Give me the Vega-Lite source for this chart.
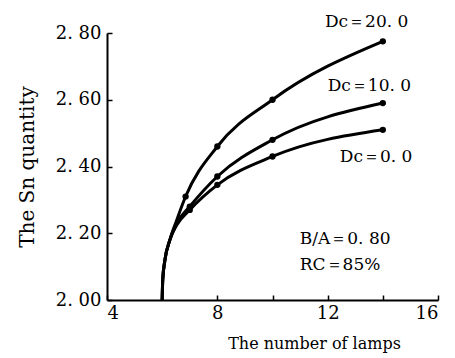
{
  "$schema": "https://vega.github.io/schema/vega-lite/v6.json",
  "width": 331,
  "height": 267,
  "autosize": "none",
  "padding": {"left": 107, "top": 33, "right": 17, "bottom": 58},
  "background": "white",
  "config": {
    "view": {"stroke": null},
    "font": "DejaVu Serif",
    "axis": {
      "grid": false,
      "domainColor": "black",
      "domainWidth": 2,
      "tickColor": "black",
      "tickWidth": 1.5,
      "tickSize": -5,
      "labelColor": "black",
      "labelFont": "DejaVu Serif",
      "labelFontSize": 18,
      "titleFont": "DejaVu Serif",
      "titleFontWeight": "normal",
      "titleColor": "black"
    }
  },
  "datasets": {
    "curves": [
      {"dc": 20, "lamps": 6.0, "sn": 2.0},
      {"dc": 20, "lamps": 6.02, "sn": 2.06},
      {"dc": 20, "lamps": 6.1, "sn": 2.12},
      {"dc": 20, "lamps": 6.28, "sn": 2.18},
      {"dc": 20, "lamps": 6.53, "sn": 2.24},
      {"dc": 20, "lamps": 6.85, "sn": 2.31},
      {"dc": 20, "lamps": 8, "sn": 2.46},
      {"dc": 20, "lamps": 10, "sn": 2.6},
      {"dc": 20, "lamps": 14, "sn": 2.775},
      {"dc": 10, "lamps": 6.0, "sn": 2.0},
      {"dc": 10, "lamps": 6.02, "sn": 2.06},
      {"dc": 10, "lamps": 6.1, "sn": 2.12},
      {"dc": 10, "lamps": 6.28, "sn": 2.18},
      {"dc": 10, "lamps": 6.53, "sn": 2.23},
      {"dc": 10, "lamps": 7.0, "sn": 2.28},
      {"dc": 10, "lamps": 8, "sn": 2.37},
      {"dc": 10, "lamps": 10, "sn": 2.48},
      {"dc": 10, "lamps": 14, "sn": 2.59},
      {"dc": 0, "lamps": 6.0, "sn": 2.0},
      {"dc": 0, "lamps": 6.02, "sn": 2.06},
      {"dc": 0, "lamps": 6.1, "sn": 2.12},
      {"dc": 0, "lamps": 6.28, "sn": 2.18},
      {"dc": 0, "lamps": 6.53, "sn": 2.225},
      {"dc": 0, "lamps": 7.0, "sn": 2.27},
      {"dc": 0, "lamps": 8, "sn": 2.345},
      {"dc": 0, "lamps": 10, "sn": 2.43},
      {"dc": 0, "lamps": 14, "sn": 2.51}
    ],
    "points": [
      {"dc": 20, "lamps": 6.85, "sn": 2.31},
      {"dc": 20, "lamps": 8, "sn": 2.46},
      {"dc": 20, "lamps": 10, "sn": 2.6},
      {"dc": 20, "lamps": 14, "sn": 2.775},
      {"dc": 10, "lamps": 7.0, "sn": 2.28},
      {"dc": 10, "lamps": 8, "sn": 2.37},
      {"dc": 10, "lamps": 10, "sn": 2.48},
      {"dc": 10, "lamps": 14, "sn": 2.59},
      {"dc": 0, "lamps": 7.0, "sn": 2.27},
      {"dc": 0, "lamps": 8, "sn": 2.345},
      {"dc": 0, "lamps": 10, "sn": 2.43},
      {"dc": 0, "lamps": 14, "sn": 2.51}
    ],
    "notes": [
      {"lamps": 11.9, "sn": 2.834, "label": "Dc＝20. 0"},
      {"lamps": 12.0, "sn": 2.641, "label": "Dc＝10. 0"},
      {"lamps": 12.44, "sn": 2.428, "label": "Dc＝0. 0"},
      {"lamps": 10.99, "sn": 2.183, "label": "B/A＝0. 80"},
      {"lamps": 10.99, "sn": 2.105, "label": "RC＝85%"}
    ]
  },
  "encoding": {
    "x": {
      "field": "lamps",
      "type": "quantitative",
      "scale": {"domain": [4, 16], "nice": false, "zero": false},
      "axis": {
        "title": "The number of lamps",
        "titleFontSize": 16,
        "values": [4, 6, 8, 10, 12, 14, 16],
        "labelExpr": "datum.value % 4 == 0 ? datum.label : ''",
        "labelPadding": 9,
        "titleX": 207,
        "titleY": 35
      }
    },
    "y": {
      "field": "sn",
      "type": "quantitative",
      "scale": {"domain": [2, 2.8], "nice": false, "zero": false},
      "axis": {
        "title": "The Sn quantity",
        "titleFontSize": 20,
        "values": [2, 2.2, 2.4, 2.6, 2.8],
        "labelExpr": "replace(format(datum.value, '.2f'), '.', '. ')",
        "labelPadding": 11,
        "titlePadding": 18
      }
    }
  },
  "layer": [
    {
      "data": {"name": "curves"},
      "mark": {"type": "line", "color": "black", "strokeWidth": 3, "interpolate": "monotone"},
      "encoding": {"detail": {"field": "dc", "type": "nominal"}}
    },
    {
      "data": {"name": "points"},
      "mark": {"type": "point", "filled": true, "color": "black", "size": 40, "opacity": 1}
    },
    {
      "data": {"name": "notes"},
      "mark": {"type": "text", "align": "left", "baseline": "middle", "font": "DejaVu Serif", "fontSize": 17, "color": "black"},
      "encoding": {"text": {"field": "label"}}
    }
  ]
}
